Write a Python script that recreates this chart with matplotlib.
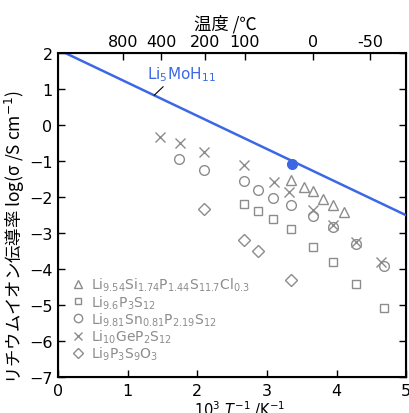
import numpy as np
import matplotlib
matplotlib.use("Agg")
import matplotlib.pyplot as plt
from matplotlib.lines import Line2D

plt.rcParams['font.family'] = ['DejaVu Sans', 'Noto Sans CJK JP']
plt.rcParams['mathtext.fontset'] = 'dejavusans'

# Li5MoH11 fit line and 25 degC point
line_x = [0.0, 5.0]
line_y = [2.09, -2.51]
mo_x = [3.356]
mo_y = [-1.10]

# comparison electrolytes (x = 1000/T, y = log sigma)
tri_x = [3.348, 3.534, 3.664, 3.807, 3.951, 4.109]
tri_y = [-1.52, -1.72, -1.85, -2.06, -2.22, -2.41]

sq_x = [2.672, 2.874, 3.089, 3.348, 3.664, 3.951, 4.282, 4.684]
sq_y = [-2.19, -2.39, -2.61, -2.89, -3.39, -3.80, -4.42, -5.08]

circ_x = [1.739, 2.098, 2.672, 2.874, 3.089, 3.348, 3.664, 3.951, 4.282, 4.684]
circ_y = [-0.96, -1.25, -1.57, -1.81, -2.02, -2.22, -2.52, -2.84, -3.31, -3.92]

cross_x = [1.466, 1.753, 2.098, 2.672, 3.103, 3.319, 3.664, 3.951, 4.282, 4.641]
cross_y = [-0.33, -0.50, -0.75, -1.11, -1.58, -1.86, -2.36, -2.78, -3.25, -3.81]

dia_x = [2.098, 2.672, 2.874, 3.348]
dia_y = [-2.33, -3.21, -3.50, -4.31]

labels = [
    'Li$_{9.54}$Si$_{1.74}$P$_{1.44}$S$_{11.7}$Cl$_{0.3}$',
    'Li$_{9.6}$P$_{3}$S$_{12}$',
    'Li$_{9.81}$Sn$_{0.81}$P$_{2.19}$S$_{12}$',
    'Li$_{10}$GeP$_{2}$S$_{12}$',
    'Li$_{9}$P$_{3}$S$_{9}$O$_{3}$',
]

temps_c = [800, 400, 200, 100, 0, -50]

gray = '#8c8c8c'
blue = '#3c68e6'
cjk = ['Noto Sans CJK JP', 'DejaVu Sans']

fig = plt.figure(figsize=(4.09, 4.14), dpi=100)
ax = fig.add_axes([0.142, 0.087, 0.851, 0.783])

ax.plot(line_x, line_y, color=blue, lw=1.8, zorder=3)
ax.plot(mo_x, mo_y, 'o', color=blue, ms=7, zorder=4)

mk = dict(ls='none', mfc='none', mec=gray, mew=1.0)
ax.plot(tri_x, tri_y, '^', ms=7, **mk)
ax.plot(sq_x, sq_y, 's', ms=6, **mk)
ax.plot(circ_x, circ_y, 'o', ms=7, **mk)
ax.plot(cross_x, cross_y, 'x', ms=7, **mk)
ax.plot(dia_x, dia_y, 'D', ms=6, **mk)

ax.set_xlim(0, 5)
ax.set_ylim(-7, 2)
ax.set_xticks(range(0, 6))
ax.set_yticks(range(-7, 3))
ax.tick_params(direction='in', length=5, width=1, labelsize=11.5, right=True, pad=4)
for s in ax.spines.values():
    s.set_linewidth(1.5)

ax.set_xlabel(r'10$^3$ $T^{-1}$ /K$^{-1}$', fontsize=10.5)
ax.xaxis.set_label_coords(0.523, -0.066)
ax.set_ylabel('リチウムイオン伝導率 log(σ /S cm$^{-1}$)', fontsize=12.5, family=cjk)
ax.yaxis.set_label_coords(-0.09, 0.435)

top = ax.twiny()
top.set_xlim(ax.get_xlim())
top.set_xticks([1000 / (t + 273.15) for t in temps_c])
top.set_xticklabels([str(t) for t in temps_c])
top.tick_params(direction='in', length=5, width=1, labelsize=11.5, pad=3)
top.set_xlabel('温度 /℃', fontsize=12.5, family=cjk)
top.xaxis.set_label_coords(0.48, 1.075)

# label with short black leader to the line
ax.annotate('', xy=(1.38, 2.09 - 0.92 * 1.38), xytext=(1.51, 1.06),
            arrowprops=dict(arrowstyle='-', color='black', lw=0.8, shrinkA=0, shrinkB=0))
ax.text(1.77, 1.42, 'Li$_5$MoH$_{11}$', color=blue, fontsize=11, ha='center', va='center')

handles = [
    Line2D([], [], marker='^', ms=6, **mk),
    Line2D([], [], marker='s', ms=5, **mk),
    Line2D([], [], marker='o', ms=6, **mk),
    Line2D([], [], marker='x', ms=6, **mk),
    Line2D([], [], marker='D', ms=5, **mk),
]
leg = ax.legend(handles, labels, loc='lower left', bbox_to_anchor=(0.01, 0.012), frameon=False,
                fontsize=10, handlelength=0.8, handletextpad=0.5, labelspacing=-0.02,
                borderaxespad=0.4)
for t in leg.get_texts():
    t.set_color(gray)

fig.savefig('out.png', dpi=100)
